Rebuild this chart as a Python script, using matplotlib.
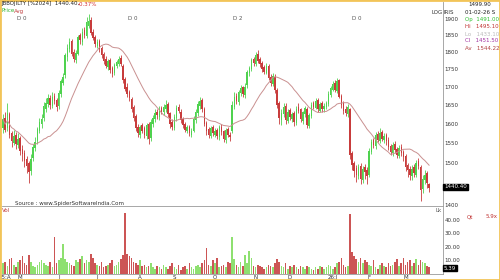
import matplotlib
matplotlib.use("Agg")
import matplotlib.pyplot as plt
import pandas as pd
from matplotlib.patches import Rectangle
from matplotlib.ticker import NullFormatter, NullLocator

# daily candles, oldest first
opens = [
    1590, 1615, 1590, 1625, 1575, 1550, 1570, 1545, 1562, 1535,
    1525, 1510, 1500, 1480, 1512, 1538, 1555, 1582, 1600, 1615,
    1640, 1652, 1670, 1648, 1675, 1662, 1648, 1680, 1712, 1732,
    1785, 1808, 1832, 1800, 1778, 1795, 1850, 1830, 1865, 1848,
    1880, 1898, 1860, 1845, 1818, 1832, 1812, 1795, 1780, 1755,
    1775, 1752, 1738, 1760, 1765, 1782, 1760, 1722, 1700, 1685,
    1665, 1645, 1620, 1592, 1572, 1595, 1588, 1568, 1598, 1562,
    1600, 1612, 1632, 1618, 1642, 1630, 1640, 1652, 1628, 1605,
    1590, 1615, 1645, 1632, 1612, 1600, 1582, 1592, 1572, 1582,
    1610, 1628, 1648, 1662, 1638, 1602, 1585, 1568, 1592, 1570,
    1582, 1565, 1592, 1580, 1558, 1585, 1570, 1580, 1645, 1675,
    1658, 1682, 1698, 1678, 1705, 1738, 1750, 1778, 1765, 1795,
    1778, 1768, 1755, 1740, 1760, 1728, 1708, 1728, 1692, 1655,
    1610, 1625, 1648, 1608, 1635, 1612, 1628, 1602, 1645, 1638,
    1608, 1625, 1640, 1595, 1620, 1655, 1642, 1662, 1635, 1655,
    1638, 1645, 1652, 1678, 1692, 1710, 1688, 1718, 1675, 1655,
    1640, 1625, 1640, 1525, 1500, 1488, 1468, 1492, 1460, 1490,
    1482, 1470, 1528, 1558, 1542, 1572, 1555, 1578, 1558, 1570,
    1558, 1542, 1525, 1548, 1535, 1518, 1540, 1528, 1518, 1495,
    1485, 1468, 1490, 1472, 1505, 1490, 1438, 1458, 1475, 1450,
]
highs = [
    1625, 1630, 1655, 1632, 1580, 1585, 1578, 1575, 1568, 1545,
    1532, 1518, 1505, 1522, 1548, 1565, 1592, 1615, 1625, 1658,
    1668, 1680, 1678, 1685, 1682, 1670, 1690, 1722, 1740, 1798,
    1825, 1842, 1838, 1808, 1805, 1852, 1858, 1872, 1875, 1905,
    1915, 1905, 1868, 1850, 1838, 1840, 1818, 1800, 1788, 1780,
    1782, 1758, 1768, 1778, 1788, 1790, 1765, 1728, 1710, 1692,
    1672, 1650, 1625, 1600, 1598, 1602, 1595, 1602, 1605, 1612,
    1622, 1640, 1638, 1648, 1648, 1652, 1665, 1658, 1632, 1612,
    1625, 1650, 1652, 1638, 1618, 1605, 1598, 1598, 1588, 1620,
    1638, 1660, 1672, 1668, 1645, 1608, 1592, 1595, 1598, 1588,
    1590, 1598, 1600, 1585, 1590, 1592, 1578, 1662, 1685, 1682,
    1692, 1705, 1702, 1712, 1748, 1760, 1782, 1785, 1800, 1806,
    1785, 1775, 1762, 1768, 1765, 1735, 1738, 1735, 1698, 1662,
    1638, 1655, 1655, 1640, 1642, 1632, 1635, 1648, 1655, 1642,
    1635, 1648, 1645, 1628, 1658, 1662, 1668, 1668, 1658, 1660,
    1655, 1662, 1688, 1702, 1715, 1718, 1725, 1722, 1680, 1660,
    1648, 1652, 1642, 1530, 1505, 1495, 1498, 1500, 1492, 1498,
    1490, 1538, 1560, 1562, 1578, 1580, 1588, 1585, 1575, 1575,
    1565, 1548, 1552, 1555, 1540, 1545, 1548, 1532, 1522, 1500,
    1492, 1495, 1498, 1508, 1512, 1495, 1470, 1482, 1480, 1452,
]
lows = [
    1575, 1578, 1582, 1562, 1540, 1545, 1535, 1538, 1520, 1505,
    1490, 1475, 1452, 1472, 1505, 1530, 1548, 1575, 1590, 1608,
    1632, 1645, 1640, 1642, 1652, 1635, 1640, 1672, 1705, 1725,
    1775, 1800, 1788, 1770, 1768, 1790, 1825, 1822, 1842, 1842,
    1872, 1850, 1835, 1815, 1812, 1800, 1782, 1765, 1752, 1748,
    1740, 1728, 1732, 1752, 1758, 1760, 1712, 1688, 1672, 1660,
    1632, 1608, 1580, 1565, 1562, 1575, 1562, 1560, 1548, 1555,
    1592, 1605, 1612, 1610, 1625, 1622, 1632, 1618, 1590, 1585,
    1585, 1608, 1628, 1602, 1590, 1578, 1575, 1568, 1565, 1578,
    1602, 1620, 1640, 1632, 1595, 1572, 1562, 1562, 1568, 1565,
    1560, 1558, 1572, 1552, 1550, 1565, 1555, 1575, 1638, 1652,
    1650, 1675, 1672, 1670, 1698, 1730, 1745, 1760, 1758, 1768,
    1755, 1742, 1735, 1735, 1718, 1702, 1702, 1682, 1642, 1600,
    1598, 1618, 1600, 1602, 1610, 1605, 1595, 1598, 1628, 1605,
    1600, 1618, 1588, 1590, 1615, 1638, 1638, 1632, 1630, 1632,
    1630, 1640, 1648, 1672, 1688, 1685, 1682, 1668, 1642, 1625,
    1620, 1618, 1510, 1482, 1465, 1455, 1462, 1450, 1452, 1462,
    1450, 1465, 1522, 1538, 1535, 1552, 1550, 1555, 1550, 1545,
    1532, 1520, 1518, 1525, 1512, 1512, 1518, 1505, 1480, 1465,
    1458, 1460, 1465, 1465, 1485, 1410, 1428, 1450, 1440, 1430,
]
closes = [
    1612, 1585, 1628, 1570, 1555, 1568, 1548, 1560, 1530, 1522,
    1505, 1492, 1478, 1510, 1540, 1552, 1585, 1605, 1612, 1648,
    1655, 1668, 1650, 1672, 1660, 1645, 1682, 1715, 1728, 1790,
    1812, 1830, 1795, 1780, 1798, 1845, 1835, 1860, 1852, 1890,
    1895, 1858, 1842, 1825, 1830, 1808, 1790, 1775, 1760, 1772,
    1748, 1735, 1762, 1770, 1778, 1765, 1720, 1695, 1680, 1668,
    1640, 1615, 1588, 1575, 1590, 1582, 1570, 1595, 1560, 1605,
    1615, 1628, 1622, 1640, 1632, 1645, 1650, 1625, 1600, 1592,
    1618, 1642, 1635, 1610, 1598, 1585, 1590, 1575, 1580, 1612,
    1630, 1652, 1660, 1640, 1600, 1580, 1570, 1588, 1575, 1580,
    1568, 1590, 1578, 1560, 1582, 1572, 1565, 1650, 1672, 1660,
    1685, 1695, 1680, 1700, 1740, 1752, 1775, 1768, 1790, 1775,
    1765, 1750, 1742, 1758, 1725, 1712, 1730, 1690, 1650, 1615,
    1628, 1645, 1610, 1632, 1618, 1625, 1605, 1640, 1635, 1612,
    1630, 1642, 1598, 1622, 1650, 1645, 1660, 1638, 1652, 1640,
    1648, 1655, 1680, 1695, 1708, 1690, 1715, 1672, 1650, 1635,
    1628, 1645, 1520, 1495, 1480, 1470, 1490, 1462, 1485, 1478,
    1468, 1530, 1552, 1545, 1570, 1558, 1575, 1560, 1568, 1555,
    1540, 1528, 1545, 1532, 1520, 1538, 1525, 1515, 1490, 1482,
    1470, 1485, 1475, 1500, 1492, 1435, 1462, 1470, 1452, 1440.4,
]
volumes = [
    8, 9, 6, 11, 12, 7, 5, 9, 10, 13,
    8, 7, 14, 9, 6, 5, 7, 9, 10, 8,
    7, 6, 9, 5, 27, 8, 10, 12, 22, 11,
    9, 8, 7, 6, 10, 9, 11, 13, 8, 10,
    9, 15, 12, 8, 7, 6, 9, 5, 6, 7,
    8, 10, 6, 7, 9, 11, 14, 45, 15, 13,
    12, 9, 8, 7, 10, 6, 7, 5, 6, 8,
    5, 4, 6, 5, 4, 7, 5, 4, 6, 8,
    5, 4, 7, 3, 5, 6, 4, 8, 5, 4,
    6, 7, 5, 8, 10, 19, 7, 6, 10, 8,
    12, 5, 6, 7, 5, 9, 8, 27, 11, 7,
    5, 9, 6, 14, 8, 17, 12, 6, 5, 7,
    6, 5, 4, 5, 7, 6, 5, 8, 11, 9,
    6, 5, 8, 4, 6, 5, 7, 5, 4, 6,
    5, 4, 6, 5, 4, 3, 5, 4, 6, 5,
    4, 5, 7, 6, 4, 5, 8, 9, 12, 7,
    5, 6, 44, 16, 13, 11, 9, 12, 8, 10,
    9, 7, 6, 10, 5, 4, 7, 8, 6, 5,
    8, 6, 7, 9, 11, 6, 8, 12, 7, 9,
    10, 6, 8, 11, 7, 10, 9, 8, 6, 5.39,
]
month_pos = [1, 8, 26, 44, 64, 80, 99, 118, 134, 154, 171, 188]
month_labels = ["25:A", "M", "J", "J", "A", "S", "O", "N", "D", "26:J", "F", "M"]
# 1450 sits under the last-price box in the original, so it is not shown
price_ticks = [1400, 1500, 1550, 1600, 1650, 1700, 1750, 1800, 1850, 1900]
vol_ticks = [10, 20, 30, 40]

W, H = 500, 280


def fx(x):
    return x / W


def fy(y):
    return 1 - y / H


GREEN = "#4fd24f"
RED = "#c83c3c"

fig = plt.figure(figsize=(5, 2.8), dpi=100)
ax = fig.add_axes([fx(2), fy(206), fx(441), (206 - 2) / H])
vax = fig.add_axes([fx(2), fy(274), fx(441), (274 - 207) / H])

n = len(closes)
xs = list(range(n))
up = [c >= o for o, c in zip(opens, closes)]
cols = [GREEN if u else RED for u in up]

ax.vlines(xs, lows, highs, colors=cols, lw=0.6)
ax.bar(xs, [abs(c - o) + 0.5 for o, c in zip(opens, closes)],
       bottom=[min(o, c) for o, c in zip(opens, closes)],
       width=0.7, color=cols, linewidth=0)
avg = pd.Series(closes).rolling(20, min_periods=1).mean()
ax.plot(xs, avg, color="#c99090", lw=0.7)

ax.set_yscale("log")
ax.set_ylim(1398, 1954)
ax.set_xlim(-0.5, 205.5)
ax.yaxis.set_minor_locator(NullLocator())
ax.yaxis.set_minor_formatter(NullFormatter())
ax.set_yticks(price_ticks)
ax.set_yticklabels([str(v) for v in price_ticks])
ax.yaxis.tick_right()
ax.set_xticks([])
ax.tick_params(axis="y", length=0, pad=1, labelsize=4, labelcolor="#333333")
for s in ["top", "left"]:
    ax.spines[s].set_visible(False)
for s in ["right", "bottom"]:
    ax.spines[s].set_color("#999999")
    ax.spines[s].set_linewidth(0.6)

vcols = ["#8ee070" if u else "#cc5555" for u in up]
vax.bar(xs, volumes, width=0.75, color=vcols, linewidth=0)
vax.set_xlim(-0.5, 205.5)
vax.set_ylim(0, 49.5)
vax.set_yticks(vol_ticks)
vax.set_yticklabels(["%.2f" % v for v in vol_ticks])
vax.yaxis.tick_right()
vax.set_xticks(month_pos)
vax.set_xticklabels(month_labels)
vax.tick_params(axis="y", length=0, pad=1, labelsize=4, labelcolor="#333333")
vax.tick_params(axis="x", length=0, pad=1, labelsize=4, labelcolor="#333333")
for s in ["top", "left"]:
    vax.spines[s].set_visible(False)
for s in ["right", "bottom"]:
    vax.spines[s].set_color("#999999")
    vax.spines[s].set_linewidth(0.6)

# header and annotations
fs = 4
fig.text(fx(1), fy(4), "JBBOJILTY [%2024]  1440.40,", fontsize=fs, color="#222222", va="center")
fig.text(fx(78), fy(4), "-0.37%", fontsize=fs, color="#d03030", va="center")
fig.text(fx(1), fy(11), "Price", fontsize=fs, color="#30b030", va="center")
fig.text(fx(14), fy(11), "Avg", fontsize=fs, color="#c04040", va="center")
for x, t in [(17, "D 0"), (128, "D 0"), (233, "D 2"), (352, "D 0")]:
    fig.text(fx(x), fy(18), t, fontsize=fs, color="#555555", va="center")
fig.text(fx(15), fy(203), "Source : www.SpiderSoftwareIndia.Com", fontsize=fs, color="#333333", va="center")
fig.text(fx(2), fy(211), "Vol", fontsize=fs, color="#c04040", va="center")
fig.text(fx(436), fy(210), "Lk", fontsize=fs, color="#555555", va="center")
fig.text(fx(431), fy(12), "LOG", fontsize=fs, color="#333333", va="center")
fig.text(fx(444), fy(12), "IRIS", fontsize=fs, color="#333333", va="center")

info = [
    (4, "1499.90", "#222222", 468),
    (12, "01-02-26 S", "#222222", 465),
    (19, "Op  1491.00", "#30c030", 465),
    (26, "Hi   1495.10", "#c03030", 465),
    (34, "Lo   1433.10", "#bbbbbb", 465),
    (41, "Cl   1451.50", "#a030a0", 465),
    (48, "Av   1544.22", "#b04040", 465),
]
for y, t, c, x in info:
    fig.text(fx(x), fy(y), t, fontsize=fs, color=c, va="center")
fig.text(fx(467), fy(217), "Qt", fontsize=fs, color="#c03030", va="center")
fig.text(fx(486), fy(217), "5.9x", fontsize=fs, color="#c03030", va="center")

fig.text(fx(444), fy(187), "1440.40", fontsize=fs, color="white", va="center",
         bbox=dict(boxstyle="square,pad=0.15", fc="black", ec="black"))
fig.text(fx(444), fy(268), "5.39", fontsize=fs, color="white", va="center",
         bbox=dict(boxstyle="square,pad=0.15", fc="black", ec="black"))

fig.add_artist(Rectangle((0, 0), 1, 1, transform=fig.transFigure, fill=False,
                         ec="#f2c458", lw=2))

fig.savefig("out.png", dpi=100)
